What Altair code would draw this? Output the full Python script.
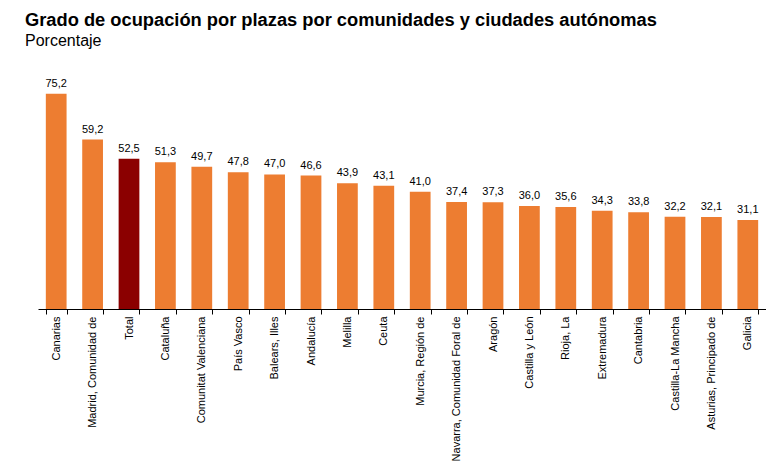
import altair as alt
import pandas as pd

categories = ["Canarias", "Madrid, Comunidad de", "Total", "Cataluña", "Comunitat Valenciana",
              "País Vasco", "Balears, Illes", "Andalucía", "Melilla", "Ceuta",
              "Murcia, Región de", "Navarra, Comunidad Foral de", "Aragón", "Castilla y León",
              "Rioja, La", "Extremadura", "Cantabria", "Castilla-La Mancha",
              "Asturias, Principado de", "Galicia"]
values = [75.2, 59.2, 52.5, 51.3, 49.7, 47.8, 47.0, 46.6, 43.9, 43.1,
          41.0, 37.4, 37.3, 36.0, 35.6, 34.3, 33.8, 32.2, 32.1, 31.1]
highlight = "Total"

df = pd.DataFrame({
    "cat": categories,
    "val": values,
    "label": [f"{v:.1f}".replace(".", ",") for v in values],
    "grp": ["total" if c == highlight else "other" for c in categories],
})

FONT = "Liberation Sans"

x = alt.X("cat:N", sort=None, title=None,
          scale=alt.Scale(paddingInner=0.43, paddingOuter=0.215),
          axis=alt.Axis(labelAngle=-90, labelFontSize=11, labelColor="#000000",
                        labelFont=FONT, labelPadding=2, tickBand="extent",
                        tickSize=5, tickColor="#000000", domainColor="#000000",
                        domainWidth=1, tickWidth=1, labelLimit=300))
y = alt.Y("val:Q", scale=alt.Scale(domain=[0, 80], nice=False), axis=None, title=None)

bars = alt.Chart(df).mark_bar().encode(
    x=x, y=y,
    color=alt.Color("grp:N", scale=alt.Scale(domain=["other", "total"],
                                             range=["#ED7D31", "#8B0000"]), legend=None),
)
texts = alt.Chart(df).mark_text(dy=-7, baseline="alphabetic", fontSize=11, font=FONT,
                                color="#000000").encode(x=x, y=y, text="label:N")

chart = (bars + texts).properties(
    width=728, height=229,
    autosize=alt.AutoSizeParams(type="none"),
    padding={"left": 38, "top": 80, "right": 0, "bottom": 160},
    title=alt.Title(
        "Grado de ocupación por plazas por comunidades y ciudades autónomas",
        subtitle="Porcentaje", anchor="start", dx=-7, offset=28,
        font=FONT, fontSize=18.3, fontWeight="bold", color="#000000",
        subtitleFont=FONT, subtitleFontSize=16, subtitleColor="#000000",
        subtitlePadding=2,
    ),
).configure(background="white").configure_view(strokeWidth=0, stroke="transparent")

chart.save("out.html", embed_options={"renderer": "svg", "actions": False})
